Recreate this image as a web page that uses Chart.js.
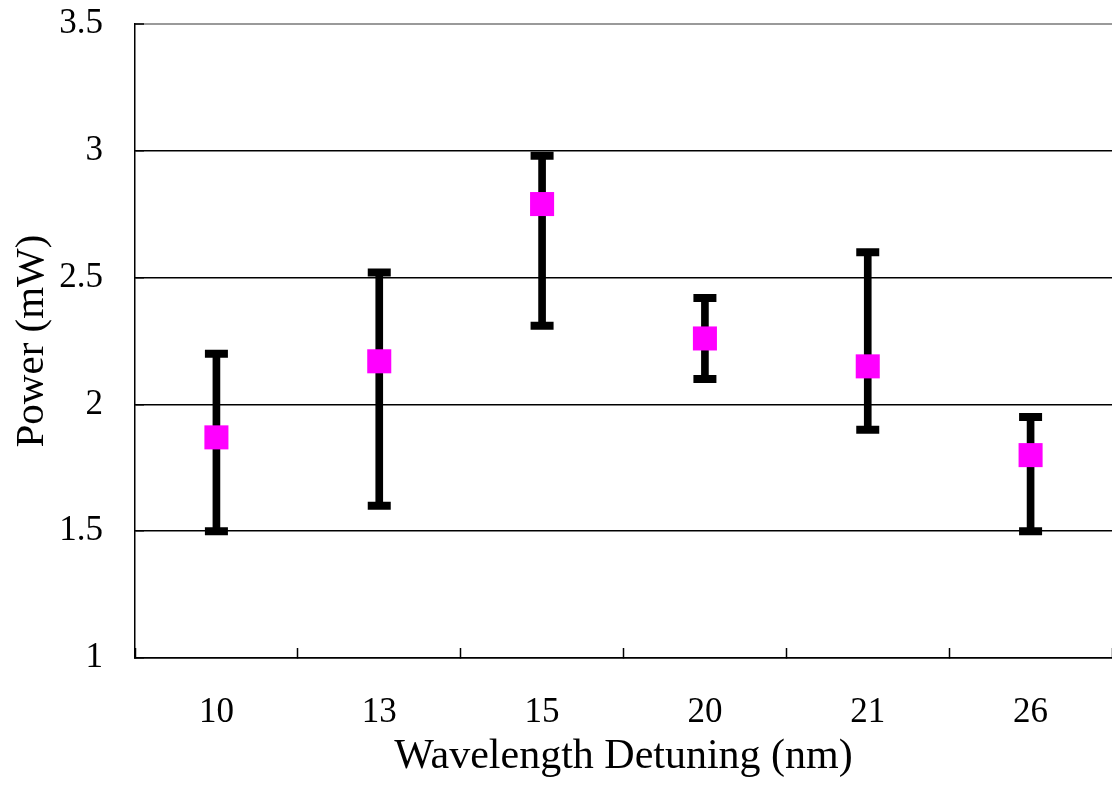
<!DOCTYPE html>
<html>
<head>
<meta charset="utf-8">
<title>Power vs Wavelength Detuning</title>
<script src="https://cdn.jsdelivr.net/npm/chart.js@4.4.1/dist/chart.umd.min.js"></script>
<style>
    html, body { margin: 0; padding: 0; background: #fff; overflow: hidden; }
    #wrap { position: relative; width: 1112px; height: 785px; }
    #powerChart { display: block; }
</style>
</head>
<body>
<div id="wrap"><canvas id="powerChart"></canvas></div>
<script>
// Measured output power per detuning setting
const detuning = ['10', '13', '15', '20', '21', '26'];
const powerMean = [1.87, 2.17, 2.79, 2.26, 2.15, 1.80];
const powerLow = [1.50, 1.60, 2.31, 2.10, 1.90, 1.50];
const powerHigh = [2.20, 2.52, 2.98, 2.42, 2.60, 1.95];
const yTicks = [1, 1.5, 2, 2.5, 3, 3.5];

const serif = "'Liberation Serif', 'Times New Roman', serif";

// Cap markers for the error bars
function capDataset(values) {
    return {
        type: 'line',
        data: values,
        showLine: false,
        pointStyle: 'line',
        pointRadius: 11.5,
        pointBorderWidth: 8,
        pointBorderColor: '#000',
        order: 1
    };
}

// fixed axis sizes, and no extra room reserved for label overhang
function fixSize(prop, size) {
    return scale => {
        scale[prop] = size;
        scale.paddingTop = 0;
        scale.paddingBottom = 0;
        scale.paddingLeft = 0;
        scale.paddingRight = 0;
    };
}

const ctx = document.getElementById('powerChart').getContext('2d');
new Chart(ctx, {
    type: 'bar',
    data: {
        labels: detuning,
        datasets: [
            {
                type: 'line',
                data: powerMean,
                showLine: false,
                pointStyle: 'rect',
                pointRadius: 17,
                pointBorderWidth: 0,
                pointBackgroundColor: '#FF00FF',
                order: 0
            },
            capDataset(powerHigh),
            capDataset(powerLow),
            {
                // error bar stems as floating bars
                data: powerLow.map((lo, i) => [lo, powerHigh[i]]),
                backgroundColor: '#000',
                barThickness: 7,
                order: 2
            }
        ]
    },
    options: {
        responsive: true,
        maintainAspectRatio: false,
        animation: false,
        events: [],
        layout: {
            autoPadding: false,
            padding: { top: 24, right: 0, bottom: 0, left: 0 }
        },
        plugins: {
            legend: { display: false },
            tooltip: { enabled: false }
        },
        scales: {
            x: {
                offset: true,
                afterFit: fixSize('height', 127),
                border: { display: true, color: '#000', width: 1.5 },
                grid: {
                    offset: true,
                    drawOnChartArea: false,
                    drawTicks: true,
                    tickLength: -10,
                    tickColor: '#000',
                    tickWidth: 1.5
                },
                ticks: {
                    color: '#000',
                    padding: 44,
                    font: { family: serif, size: 35 }
                },
                title: {
                    display: true,
                    text: 'Wavelength Detuning (nm)',
                    color: '#000',
                    padding: { top: 3, bottom: 3 },
                    font: { family: serif, size: 42 }
                }
            },
            y: {
                min: 1,
                max: 3.5,
                afterFit: fixSize('width', 135),
                afterBuildTicks: scale => {
                    scale.ticks = yTicks.map(v => ({ value: v }));
                },
                border: { display: true, color: '#000', width: 1.5 },
                grid: {
                    color: c => (c.tick && c.tick.value === 3.5 ? '#9a9a9a' : '#000'),
                    lineWidth: c => (c.tick && c.tick.value === 3.5 ? 2 : 1.5),
                    drawTicks: true,
                    tickLength: -9,
                    tickColor: '#000',
                    tickWidth: 1.5
                },
                ticks: {
                    color: '#000',
                    padding: 41,
                    font: { family: serif, size: 35 },
                    callback: v => String(v)
                },
                title: {
                    display: true,
                    text: 'Power (mW)',
                    color: '#000',
                    padding: { top: 8, bottom: 8 },
                    font: { family: serif, size: 41 }
                }
            }
        }
    }
});
</script>
</body>
</html>
